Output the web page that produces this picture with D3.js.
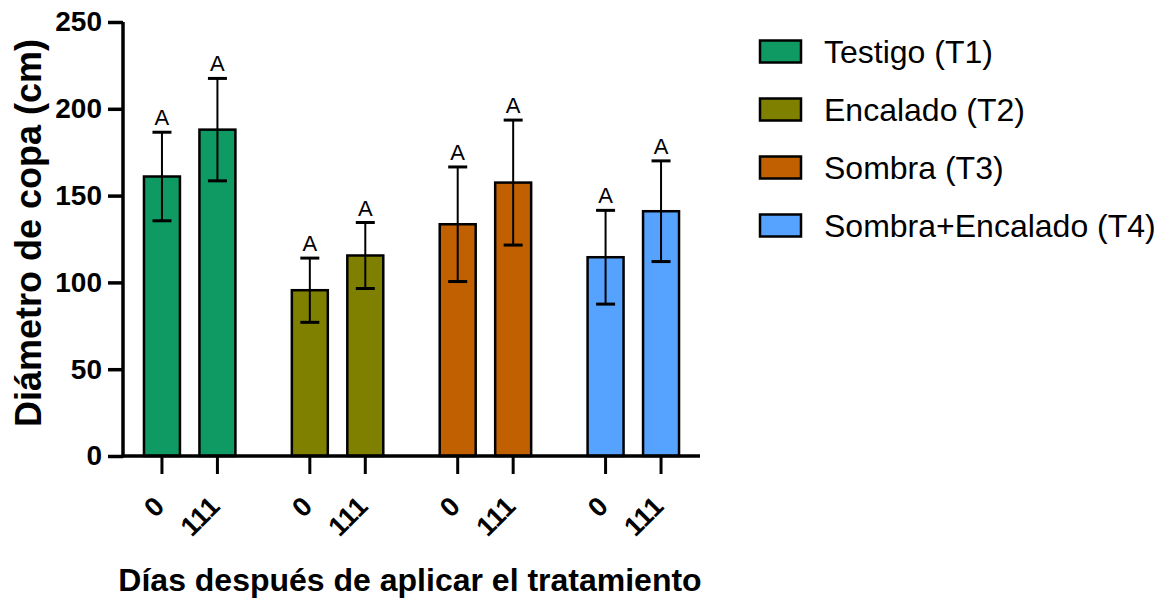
<!DOCTYPE html>
<html lang="es">
<head>
    <meta charset="UTF-8">
    <title>Diámetro de copa</title>
    <script src="https://cdn.jsdelivr.net/npm/d3@7"></script>
    <style>
        html, body {
            margin: 0;
            padding: 0;
            background: #ffffff;
            overflow: hidden;
        }
        text {
            font-family: "Liberation Sans", Arial, sans-serif;
        }
    </style>
</head>
<body>
<script>
    // datos
    const treatments = ['Testigo (T1)', 'Encalado (T2)', 'Sombra (T3)', 'Sombra+Encalado (T4)'];
    const days = ['0', '111'];
    const means = [[161, 188], [95.5, 115.5], [133.5, 157.5], [114.5, 141]];
    const errors = [[25.5, 29.5], [18.5, 19], [33, 36], [27, 29]];
    const letters = [['A', 'A'], ['A', 'A'], ['A', 'A'], ['A', 'A']];
    const colors = ['#0f9a64', '#808000', '#c06000', '#55a2ff'];
    const yTicks = [0, 50, 100, 150, 200, 250];

    const width = 1167, height = 600;
    const mLeft = 123, mRight = 700, mTop = 22, mBottom = 456;

    let svg = d3.select('body').append('svg')
        .attr('width', width)
        .attr('height', height);

    // escalas
    let y = d3.scaleLinear().domain([0, 250]).range([mBottom, mTop]);

    let x0 = d3.scaleBand()
        .domain(treatments)
        .range([mLeft, mRight])
        .paddingInner(0.118)
        .paddingOuter(0.01);

    let x1 = d3.scaleBand()
        .domain(days)
        .range([0, x0.bandwidth()])
        .paddingInner(0.3514)
        .paddingOuter(0.3514);

    let rows = [];
    treatments.forEach((t, i) => {
        days.forEach((d, j) => {
            rows.push({t: t, d: d, i: i, mean: means[i][j], err: errors[i][j], letter: letters[i][j]});
        });
    });
    const cx = r => x0(r.t) + x1(r.d) + x1.bandwidth() / 2;

    // barras
    svg.append('g').selectAll('rect')
        .data(rows)
        .enter().append('rect')
        .attr('x', r => x0(r.t) + x1(r.d))
        .attr('y', r => y(r.mean))
        .attr('width', x1.bandwidth())
        .attr('height', r => y(0) - y(r.mean))
        .attr('fill', r => colors[r.i])
        .attr('stroke', '#000')
        .attr('stroke-width', 2.5);

    // barras de error
    let eb = svg.append('g').selectAll('g')
        .data(rows)
        .enter().append('g');
    eb.append('line')
        .attr('x1', cx).attr('x2', cx)
        .attr('y1', r => y(r.mean + r.err))
        .attr('y2', r => y(r.mean - r.err))
        .attr('stroke', '#000').attr('stroke-width', 2);
    eb.selectAll('.cap')
        .data(r => [r.mean + r.err, r.mean - r.err].map(v => ({r: r, v: v})))
        .enter().append('line')
        .attr('x1', c => cx(c.r) - 9.5).attr('x2', c => cx(c.r) + 9.5)
        .attr('y1', c => y(c.v)).attr('y2', c => y(c.v))
        .attr('stroke', '#000').attr('stroke-width', 3);
    eb.append('text')
        .attr('x', cx)
        .attr('y', r => y(r.mean + r.err) - 7)
        .attr('text-anchor', 'middle')
        .attr('font-size', 22)
        .text(r => r.letter);

    // eje y
    let yAxis = svg.append('g')
        .attr('transform', `translate(${mLeft},0)`)
        .call(d3.axisLeft(y).tickValues(yTicks).tickSize(15).tickPadding(6));
    yAxis.select('.domain').attr('stroke-width', 3.5).attr('d', `M0,${mTop}V${mBottom + 1.5}`);
    yAxis.selectAll('.tick line').attr('stroke-width', 3.5);
    yAxis.selectAll('.tick text')
        .attr('font-size', 28)
        .attr('font-weight', 'bold')
        .attr('fill', '#000');

    // eje x
    let xg = svg.append('g').attr('transform', `translate(0,${mBottom})`);
    xg.append('line')
        .attr('x1', mLeft - 1.5).attr('x2', mRight)
        .attr('stroke', '#000').attr('stroke-width', 3.5);
    xg.selectAll('.xtick')
        .data(rows)
        .enter().append('line')
        .attr('x1', cx).attr('x2', cx)
        .attr('y1', 0).attr('y2', 18)
        .attr('stroke', '#000').attr('stroke-width', 3);
    xg.selectAll('.xlabel')
        .data(rows)
        .enter().append('text')
        .attr('text-anchor', 'end')
        .attr('font-size', 27)
        .attr('font-weight', 'bold')
        .attr('transform', r => `translate(${cx(r) + 4},${52}) rotate(-45)`)
        .text(r => r.d);

    // títulos
    svg.append('text')
        .attr('transform', `translate(41,233) rotate(-90)`)
        .attr('text-anchor', 'middle')
        .attr('font-size', 36)
        .attr('font-weight', 'bold')
        .text('Diámetro de copa (cm)');

    svg.append('text')
        .attr('x', 410)
        .attr('y', 591)
        .attr('text-anchor', 'middle')
        .attr('font-size', 32)
        .attr('font-weight', 'bold')
        .text('Días después de aplicar el tratamiento');

    // leyenda
    let legend = svg.append('g').selectAll('g')
        .data(treatments)
        .enter().append('g')
        .attr('transform', (d, i) => `translate(760,${51.5 + i * 58})`);
    legend.append('rect')
        .attr('x', 0).attr('y', -11)
        .attr('width', 41).attr('height', 22)
        .attr('fill', (d, i) => colors[i])
        .attr('stroke', '#000')
        .attr('stroke-width', 2.5);
    legend.append('text')
        .attr('x', 64)
        .attr('dy', '0.35em')
        .attr('font-size', 32)
        .text(d => d);
</script>
</body>
</html>
